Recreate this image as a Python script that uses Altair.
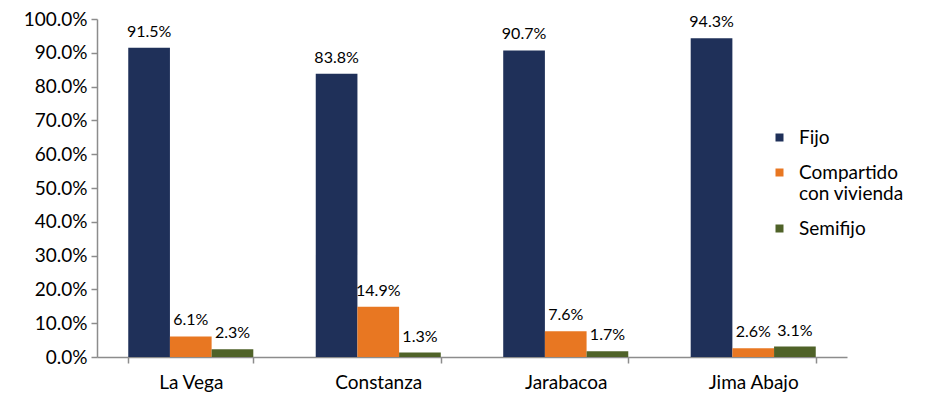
import altair as alt
import pandas as pd

categories = ["La Vega", "Constanza", "Jarabacoa", "Jima Abajo"]
series = ["Fijo", "Compartido con vivienda", "Semifijo"]
fijo = [91.5, 83.8, 90.7, 94.3]
compartido = [6.1, 14.9, 7.6, 2.6]
semifijo = [2.3, 1.3, 1.7, 3.1]
colors = ["#1F3059", "#E87722", "#4F6228"]
y_ticks = [0, 10, 20, 30, 40, 50, 60, 70, 80, 90, 100]

rows = []
for i, c in enumerate(categories):
    for s, vals in zip(series, [fijo, compartido, semifijo]):
        rows.append({"Municipio": c, "Serie": s, "Valor": vals[i]})
df = pd.DataFrame(rows)

FONT = "Lato"

base = alt.Chart(df).encode(
    x=alt.X("Municipio:N", sort=categories, title=None,
            scale=alt.Scale(paddingInner=0.333, paddingOuter=0.1667),
            axis=alt.Axis(labelAngle=0, labelFontSize=19, labelFont=FONT, labelColor="#000",
                          domainColor="#8c8c8c", domainWidth=1.5, tickColor="#8c8c8c",
                          tickWidth=1.5, tickSize=6, tickBand="extent", labelPadding=10,
                          grid=False)),
    xOffset=alt.XOffset("Serie:N", sort=series, scale=alt.Scale(paddingInner=0, paddingOuter=0)),
    y=alt.Y("Valor:Q", title=None,
            scale=alt.Scale(domain=[0, 100], nice=False),
            axis=alt.Axis(values=y_ticks, labelExpr="format(datum.value, '.1f') + '%'",
                          labelFontSize=19, labelFont=FONT, labelColor="#000", labelOverlap=False,
                          domainColor="#8c8c8c", domainWidth=1.5, tickColor="#8c8c8c",
                          tickWidth=1.5, tickSize=6, labelPadding=4, grid=False)),
)

bars = base.mark_bar().encode(
    color=alt.Color("Serie:N", sort=series,
                    scale=alt.Scale(domain=series, range=colors),
                    legend=alt.Legend(title=None, orient="none", legendX=673, legendY=109,
                                      symbolType="square", symbolSize=64, symbolStrokeWidth=0,
                                      labelFontSize=19, labelFont=FONT, labelColor="#000",
                                      labelOffset=10, rowPadding=15, labelLimit=200,
                                      labelExpr="datum.label == 'Compartido con vivienda' ? ['Compartido', 'con vivienda'] : datum.label")),
)

labels = base.mark_text(dy=-8, baseline="bottom", fontSize=16, font=FONT, color="#000").encode(
    text=alt.Text("lbl:N"),
).transform_calculate(lbl="format(datum.Valor, '.1f') + '%'")

chart = alt.layer(bars, labels).properties(
    width=750, height=338,
    padding={"left": 15, "top": 2, "right": 5, "bottom": 5},
).configure_view(stroke=None)

chart.save("out.html", embed_options={"renderer": "svg", "actions": False})
